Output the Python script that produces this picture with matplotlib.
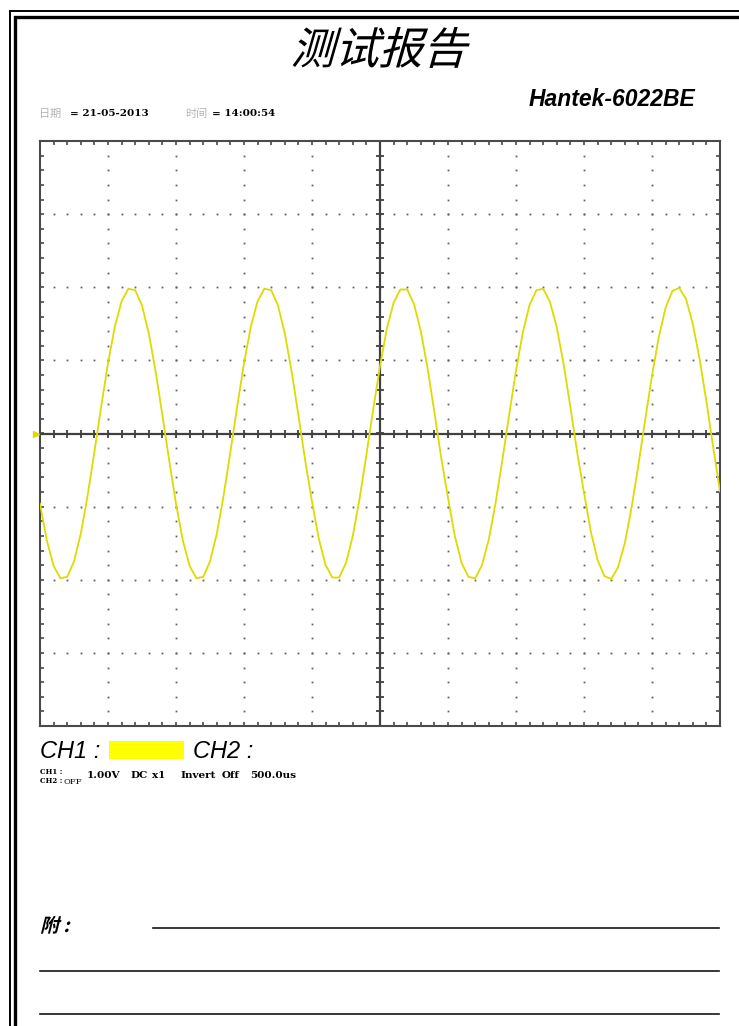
import numpy as np
import matplotlib
matplotlib.use('Agg')
import matplotlib.pyplot as plt
from matplotlib.textpath import TextPath
from matplotlib.patches import PathPatch, Rectangle
from matplotlib.font_manager import FontProperties
from matplotlib.transforms import Affine2D

# CH1 trace, one sample every 50 us (volts)
sample_step_us = 50
ch1_volts = [
    -0.96, -1.46, -1.81, -1.98, -1.96, -1.75, -1.37, -0.85, -0.25, 0.37,
    0.96, 1.46, 1.81, 1.98, 1.96, 1.75, 1.37, 0.85, 0.25, -0.37,
    -0.96, -1.46, -1.81, -1.98, -1.96, -1.75, -1.37, -0.85, -0.25, 0.37,
    0.96, 1.46, 1.81, 1.98, 1.96, 1.75, 1.37, 0.85, 0.25, -0.37,
    -0.93, -1.44, -1.80, -1.97, -1.97, -1.77, -1.40, -0.89, -0.29, 0.33,
    0.92, 1.43, 1.79, 1.97, 1.97, 1.77, 1.40, 0.89, 0.29, -0.33,
    -0.88, -1.40, -1.77, -1.96, -1.98, -1.80, -1.45, -0.95, -0.36, 0.26,
    0.86, 1.38, 1.76, 1.96, 1.98, 1.80, 1.45, 0.95, 0.36, -0.26,
    -0.81, -1.34, -1.73, -1.95, -1.99, -1.83, -1.50, -1.01, -0.43, 0.19,
    0.79, 1.32, 1.72, 1.95, 1.99, 1.84, 1.50, 1.02, 0.44, -0.19,
    -0.79,
]
time_us = np.arange(len(ch1_volts)) * sample_step_us

us_per_div = 500
volts_per_div = 1.0
n_xdiv = 10
n_ydiv = 8

report_title = "测试报告"
model_name = "Hantek-6022BE"
date_label, date_value = "日期", "= 21-05-2013"
time_label, time_value = "时间", "= 14:00:54"
# words of the channel settings line and where each one starts (px)
ch_info_words = ["1.00V", "DC", "x1", "Invert", "Off", "500.0us"]
ch_info_x = [87, 130, 152, 180, 222, 250]

W, H = 739, 1026
fig = plt.figure(figsize=(W / 100, H / 100), dpi=100)
fig.patch.set_facecolor('white')

# page layer in pixel coordinates (y down)
page = fig.add_axes([0, 0, 1, 1])
page.set_xlim(0, W)
page.set_ylim(H, 0)
page.axis('off')

# double frame
page.plot([10, 10, W], [H, 11, 11], color='black', lw=1.4, solid_joinstyle='miter')
page.plot([15, 15, W], [H, 16.5, 16.5], color='black', lw=2.4, solid_joinstyle='miter')

cjk = FontProperties(family='Noto Sans CJK SC')
cjk_bold = FontProperties(family='Noto Sans CJK SC', weight='bold')


def skew_text(text, x, y, size, prop, skew=14, center=False):
    tp = TextPath((0, 0), text, size=size, prop=prop)
    ext = tp.get_extents()
    if center:
        x = x - (ext.x0 + ext.x1) / 2
    tr = Affine2D().skew_deg(skew, 0).scale(1, -1).translate(x, y) + page.transData
    page.add_patch(PathPatch(tp, transform=tr, color='black', lw=0))


skew_text(report_title, 378, 64, 44, cjk, skew=16, center=True)

page.text(529, 100, model_name, fontsize=16.5, style='italic', weight='bold',
          family='Liberation Sans', ha='left', va='center')

serif = dict(fontsize=7.5, va='center', family='DejaVu Serif', weight='bold')
cjk_small = dict(fontsize=8, va='center', family='Noto Sans CJK SC', color='#b4b4b4')
page.text(39, 114, date_label, **cjk_small)
page.text(70, 114, date_value, **serif)
page.text(185, 114, time_label, **cjk_small)
page.text(212, 114, time_value, **serif)

# channel legend
page.text(40, 751, "CH1 :", fontsize=17, style='italic', family='Liberation Sans', va='center')
page.add_patch(Rectangle((109, 741), 75, 18, facecolor='#ffff00', edgecolor='none'))
page.text(193, 751, "CH2 :", fontsize=17, style='italic', family='Liberation Sans', va='center')
page.text(40, 772, "CH1 :", fontsize=5, family='DejaVu Serif', weight='bold', va='center')
page.text(40, 781, "CH2 :", fontsize=5, family='DejaVu Serif', weight='bold', va='center')
page.text(64, 782, "OFF", fontsize=6, family='DejaVu Serif', va='center')
for word, wx in zip(ch_info_words, ch_info_x):
    page.text(wx, 776, word, **serif)

# notes area
skew_text("附 :", 40, 932, 19, cjk_bold, skew=14)
page.plot([153, 719], [928, 928], color='#151515', lw=1.2)
page.plot([40, 719], [971, 971], color='#151515', lw=1.2)
page.plot([40, 719], [1014, 1014], color='#151515', lw=1.2)

# scope screen
x0, x1, y0, y1 = 40, 720, 141, 726
ax = fig.add_axes([x0 / W, 1 - y1 / H, (x1 - x0) / W, (y1 - y0) / H])
ax.set_facecolor('none')
xmax = us_per_div * n_xdiv
ymax = volts_per_div * n_ydiv / 2
ax.set_xlim(0, xmax)
ax.set_ylim(-ymax, ymax)

grid_col = '#4a4a4a'
for s in ax.spines.values():
    s.set_color(grid_col)
    s.set_linewidth(1.5)

x_minor = np.arange(0, xmax + 1, us_per_div / 5)
y_minor = np.arange(-ymax, ymax + 0.01, volts_per_div / 5)
ax.set_xticks(x_minor)
ax.set_yticks(y_minor)
ax.tick_params(direction='in', length=3.2, width=1.2, color=grid_col,
               top=True, right=True, labelbottom=False, labelleft=False)

# dotted graticule
x_major = np.arange(us_per_div, xmax, us_per_div)
y_major = np.arange(-ymax + volts_per_div, ymax, volts_per_div)
x_center, y_center = xmax / 2, 0.0
for xv in x_major:
    if abs(xv - x_center) < 1e-6:
        continue
    ax.plot(np.full(len(y_minor[1:-1]), xv), y_minor[1:-1], ls='none', marker='s',
            ms=1.3, mew=0, color='#606060')
for yv in y_major:
    if abs(yv - y_center) < 1e-6:
        continue
    ax.plot(x_minor[1:-1], np.full(len(x_minor[1:-1]), yv), ls='none', marker='s',
            ms=1.3, mew=0, color='#606060')

# center axes with crossing ticks
ax.axhline(y_center, color='#404040', lw=1.6)
ax.axvline(x_center, color='#404040', lw=1.6)
ax.plot(x_minor[1:-1], np.zeros(len(x_minor) - 2), ls='none', marker='|', ms=6,
        mew=1.3, color='#404040')
ax.plot(np.full(len(y_minor) - 2, x_center), y_minor[1:-1], ls='none', marker='_', ms=6,
        mew=1.3, color='#404040')

# waveform + ground marker
ax.plot(time_us, ch1_volts, color='#dcdc00', lw=1.3, zorder=5)
ax.plot([-30], [0], marker='>', ms=4, color='#dcdc00', clip_on=False, zorder=6)

fig.savefig('out.png', dpi=100, facecolor='white')
